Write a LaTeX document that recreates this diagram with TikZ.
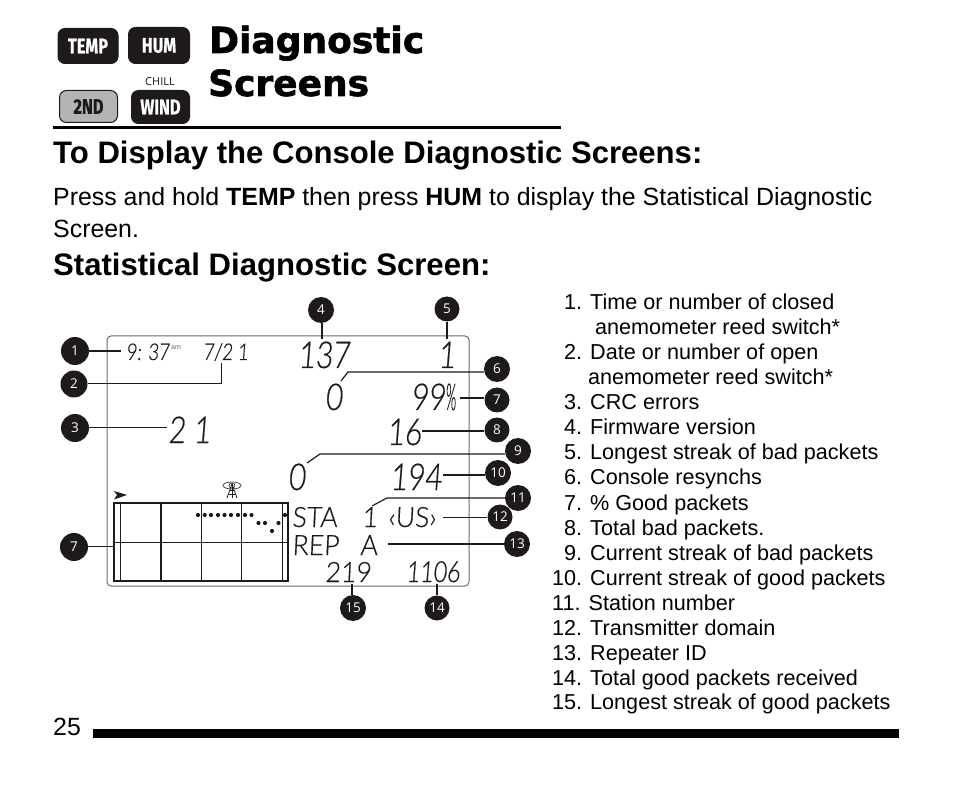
\documentclass[tikz,border=0pt]{standalone}
\usepackage{fontspec}
\setmainfont{Liberation Sans}
\newfontfamily\titlefont[FakeBold=1.6]{DejaVu Sans}
\newfontfamily\keyfont[FakeStretch=0.78,FakeBold=0.5]{Fira Sans}
\newfontfamily\badgefont{Open Sans}
\newfontfamily\lcdfont[FakeSlant=0.08,FakeStretch=0.8,FakeBold=0.5]{Lato Light}
\newfontfamily\lcdwide[FakeSlant=0.05,FakeStretch=0.95,FakeBold=0.4]{Lato Light}
\definecolor{inkblack}{HTML}{1E1A1A}
\definecolor{panelgray}{HTML}{6A6A6A}
\definecolor{keygray}{HTML}{B4B4B4}
\newcommand{\sz}[1]{\fontsize{#1}{#1}\selectfont}
\tikzstyle{key}=[draw=inkblack,fill=inkblack,rounded corners=7pt,line width=1pt,text=white,inner sep=0pt,font=\keyfont\bfseries\sz{21}]
\tikzstyle{badge}=[circle,fill=inkblack,text=white,inner sep=0pt,minimum size=26pt,font=\badgefont\sz{13.5}]
\tikzstyle{title}=[anchor=base west,inner sep=0pt,font=\titlefont\bfseries\sz{36}]
\tikzstyle{texto}=[anchor=base west,inner sep=0pt,font=\sz{24.9}]
\tikzstyle{item}=[anchor=base west,inner sep=0pt,font=\sz{21.6}]
\tikzstyle{head}=[anchor=base west,inner sep=0pt,font=\bfseries\sz{31.1}]
\tikzstyle{lcdbig}=[anchor=base west,inner sep=0pt,text=inkblack,font=\lcdfont\sz{37}]
\tikzstyle{lcdmid}=[anchor=base west,inner sep=0pt,text=inkblack,font=\lcdwide\sz{28}]
\tikzstyle{lcdlow}=[anchor=base west,inner sep=0pt,text=inkblack,font=\lcdfont\sz{29}]
\tikzstyle{lcdsmall}=[anchor=base west,inner sep=0pt,text=inkblack,font=\lcdfont\sz{23}]
\tikzstyle{lead}=[draw=inkblack,line width=1.2pt]
\begin{document}
\begin{tikzpicture}[x=1pt,y=-1pt]
    \useasboundingbox (0,0) rectangle (954,786);
    % keys
    \node [key,minimum width=60pt,minimum height=35pt] (temp) at (88,46) {TEMP};
    \node [key,minimum width=61pt,minimum height=36pt] (hum) at (159,45.5) {HUM};
    \node [key,minimum width=58pt,minimum height=32pt,fill=keygray,text=inkblack] (second) at (88.5,106.5) {2ND};
    \node [key,minimum width=58pt,minimum height=33pt] (wind) at (160.5,107) {WIND};
    \node [inner sep=0pt,text=inkblack,font=\badgefont\sz{11}] (chill) at (160,82) {CHILL};
    % title and text
    \node [title] (title1) at (209,53) {Diagnostic};
    \node [title] (title2) at (208,96) {Screens};
    \draw [line width=3pt] (53,127.5) -- (561,127.5);
    \node [head] (head1) at (53,164) {To Display the Console Diagnostic Screens:};
    \node [texto] (para1) at (53,206) {Press and hold \textbf{TEMP} then press \textbf{HUM} to display the Statistical Diagnostic};
    \node [texto] (para2) at (53,238) {Screen.};
    \node [head] (head2) at (53,276) {Statistical Diagnostic Screen:};
    % list
    \node [item] (l1) at (564,310) {1. Time or number of closed};
    \node [item] (l1b) at (595,335) {anemometer reed switch*};
    \node [item] (l2) at (564,360) {2. Date or number of open};
    \node [item] (l2b) at (588,385) {anemometer reed switch*};
    \node [item] (l3) at (564,410) {3. CRC errors};
    \node [item] (l4) at (564,435) {4. Firmware version};
    \node [item] (l5) at (564,460) {5. Longest streak of bad packets};
    \node [item] (l6) at (564,485) {6. Console resynchs};
    \node [item] (l7) at (564,510) {7. \% Good packets};
    \node [item] (l8) at (564,535) {8. Total bad packets.};
    \node [item] (l9) at (564,560) {9. Current streak of bad packets};
    \node [item] (l10) at (552,585) {10. Current streak of good packets};
    \node [item] (l11) at (552,610) {11. Station number};
    \node [item] (l12) at (552,635) {12. Transmitter domain};
    \node [item] (l13) at (552,660) {13. Repeater ID};
    \node [item] (l14) at (552,685) {14. Total good packets received};
    \node [item] (l15) at (552,709) {15. Longest streak of good packets};
    % page number and bar
    \node [texto] (page) at (53,735) {25};
    \draw [line width=9pt] (93,733.5) -- (899,733.5);
    % console panel
    \draw [panelgray,line width=1pt,rounded corners=4pt] (107,336) rectangle (469,586);
    % graph
    \draw [inkblack,line width=1.6pt] (114,503) rectangle (288,581);
    \draw [inkblack,line width=1.6pt] (161,503) -- (161,581);
    \draw [inkblack,line width=.9pt] (120,503) -- (120,581);
    \draw [inkblack,line width=.9pt] (201,503) -- (201,581);
    \draw [inkblack,line width=.9pt] (241,503) -- (241,581);
    \draw [inkblack,line width=.9pt] (282,503) -- (282,581);
    \draw [inkblack,line width=.9pt] (114,542) -- (288,542);
    \foreach \x/\y in {198/515,204.7/515,211/515,218/515,224.5/515,231/515,238/515,245/515,251.5/515,258.5/523,265/523,272/531,278.5/523,285/515}
        \fill [inkblack] (\x,\y) circle (2.1pt);
    \fill [inkblack] (114,491) -- (127,495) -- (114,499.5) -- (117,495) -- cycle;
    % antenna
    \draw [inkblack,line width=.6pt] (232,485.5) ellipse [x radius=3pt, y radius=2.5pt];
    \draw [inkblack,line width=.6pt] (232,485.5) ellipse [x radius=9pt, y radius=3.5pt];
    \draw [inkblack,line width=.8pt] (227,498) -- (232,484) -- (237,498);
    \draw [inkblack,line width=.6pt] (229,494) -- (235,494) (230,490) -- (234,490) (232,484) -- (232,498);
    % readouts
    \node [lcdsmall] (clock) at (126,360) {9: 37};
    \node [inner sep=0pt,text=panelgray,font=\sz{7}] (ampm) at (176,348) {am};
    \node [lcdsmall] (date) at (203,360) {7/2 1};
    \node [lcdbig] (crc) at (168,443) {2 1};
    \node [lcdbig] (fw) at (298,368) {137};
    \node [lcdbig] (streak) at (438,368) {1};
    \node [lcdbig] (resync) at (325,410) {0};
    \node [lcdbig] (good) at (411,410) {99\scalebox{0.45}[1]{\%}};
    \node [lcdbig] (bad) at (387,445) {16};
    \node [lcdbig] (cur) at (288,490) {0};
    \node [lcdbig] (curgood) at (390,490) {194};
    \node [lcdmid] (sta) at (292,527) {STA};
    \node [lcdmid] (stanum) at (362,527) {1};
    \node [lcdmid] (domain) at (388,527) {‹US›};
    \node [lcdmid] (rep) at (292,555) {REP};
    \node [lcdmid] (repid) at (360,555) {A};
    \node [lcdmid] (total) at (325,582) {219};
    \node [lcdlow] (longest) at (406,582) {1106};
    % badges
    \node [badge,minimum size=28pt] (c1) at (75,351) {1};
    \node [badge,minimum size=27pt] (c2) at (74,384) {2};
    \node [badge,minimum size=28pt] (c3) at (75,428) {3};
    \node [badge] (c4) at (321,310) {4};
    \node [badge,minimum size=25pt] (c5) at (447,309) {5};
    \node [badge] (c6) at (497,369) {6};
    \node [badge,minimum size=25pt] (c7) at (497,400) {7};
    \node [badge,minimum size=25pt] (c8) at (497,430) {8};
    \node [badge] (c9) at (518,451) {9};
    \node [badge] (c10) at (498,473) {10};
    \node [badge] (c11) at (518,498) {11};
    \node [badge,minimum size=25pt] (c12) at (500,517) {12};
    \node [badge] (c13) at (517,544) {13};
    \node [badge,minimum size=25pt] (c14) at (437,608) {14};
    \node [badge] (c15) at (353,608) {15};
    \node [badge,minimum size=28pt] (c7b) at (74,547) {7};
    % connector ends
    \coordinate (e1) at (121,351);
    \coordinate (e2) at (221,384);
    \coordinate (e2b) at (221,363);
    \coordinate (e3) at (167,428);
    \coordinate (e4) at (322,339);
    \coordinate (e5) at (447,339);
    \coordinate (e6) at (348,372);
    \coordinate (e6b) at (341,381);
    \coordinate (e7) at (460,398);
    \coordinate (e8) at (422,431);
    \coordinate (e9) at (320,454);
    \coordinate (e9b) at (307,463);
    \coordinate (e10) at (443,475);
    \coordinate (e11) at (387,498);
    \coordinate (e11b) at (372,506);
    \coordinate (e12) at (443,517);
    \coordinate (e13) at (388,544);
    \coordinate (e14) at (437,584);
    \coordinate (e15) at (352,584);
    \coordinate (e7b) at (113,546);
    % connectors
    \draw [lead] (c1) -- (e1);
    \draw [lead,line width=1pt] (c2) -- (e2) -- (e2b);
    \draw [lead,line width=1pt] (c3) -- (e3);
    \draw [lead] (c4.south -| e4) -- (e4);
    \draw [lead] (c5) -- (e5);
    \draw [lead] (c6.west |- e6) -- (e6) -- (e6b);
    \draw [lead] (c7.west |- e7) -- (e7);
    \draw [lead] (c8.west |- e8) -- (e8);
    \draw [lead] (c9.west |- e9) -- (e9) -- (e9b);
    \draw [lead] (c10.west |- e10) -- (e10);
    \draw [lead] (c11) -- (e11) -- (e11b);
    \draw [lead,line width=1pt] (c12) -- (e12);
    \draw [lead] (c13) -- (e13);
    \draw [lead] (c14) -- (e14);
    \draw [lead] (c15.north -| e15) -- (e15);
    \draw [lead,line width=1pt] (c7b.east |- e7b) -- (e7b);
\end{tikzpicture}
\end{document}
